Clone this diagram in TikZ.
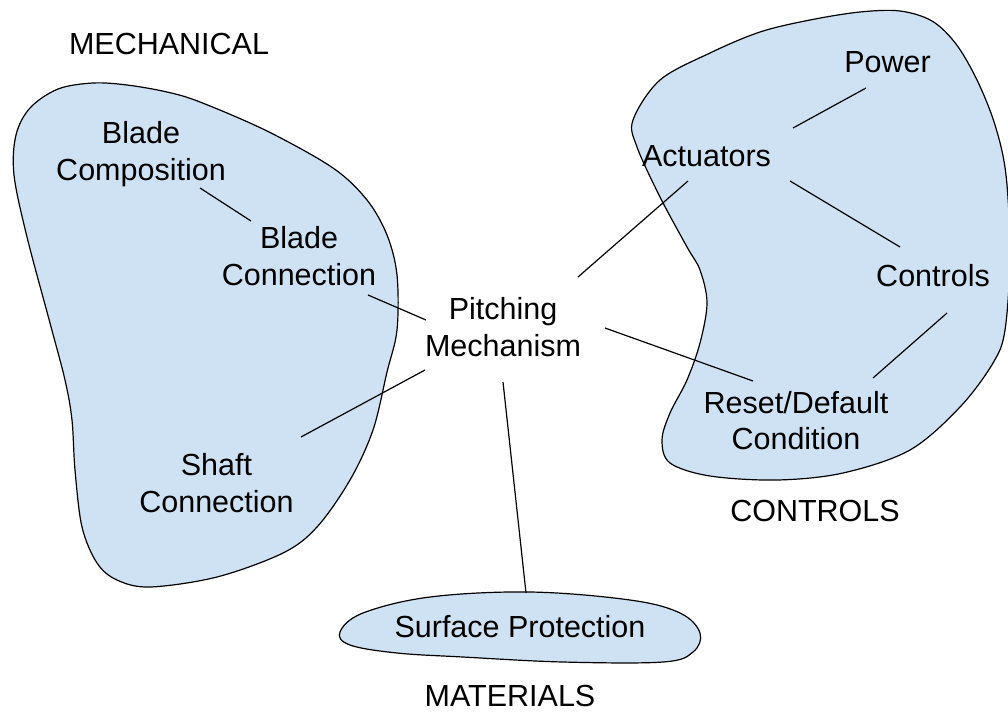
\documentclass[tikz,border=0pt]{standalone}
\usepackage{fontspec}
\setmainfont{Liberation Sans}
\usepackage{tikz}
\usetikzlibrary{positioning}
\definecolor{blobblue}{HTML}{CFE2F3}

\begin{document}
\begin{tikzpicture}[
    x=1pt, y=-1pt,
    blob/.style={draw=black, fill=blobblue, line width=1.2pt},
    link/.style={line width=1.2pt},
    every node/.style={align=center, inner sep=0pt,
                       font=\fontsize{30.5}{36.5}\selectfont}
]
    \useasboundingbox (0,0) rectangle (1008,712);

    % regions
    \draw[blob] plot[smooth cycle, tension=0.55] coordinates {
        (93,83) (127,85) (167,92) (200,102) (267,131) (333,168)
        (367,200) (387,235) (397,275) (397,330) (387,372)
        (373,430) (350,480) (317,527) (283,553) (217,577) (150,587)
        (117,580) (97,563) (82,527) (75,470) (72,420) (65,380)
        (50,323) (27,237) (14,175) (16,135) (30,108) (58,89)};
    \draw[blob] plot[smooth cycle, tension=0.55] coordinates {
        (633,120) (660,80) (710,53) (760,32) (810,20) (860,12)
        (900,11) (932,21) (956,44) (977,80) (995,125) (1006,175)
        (1010,255) (1005,330) (993,363) (960,407) (910,450)
        (843,473) (777,480) (710,476) (670,463) (662,440) (670,413)
        (687,380) (700,343) (707,303) (700,270) (687,247) (660,197)
        (637,147)};
    \draw[blob] plot[smooth cycle, tension=0.6] coordinates {
        (340,632) (363,613) (430,597) (530,592) (630,600) (680,613)
        (700,633) (693,652) (663,662) (563,662) (463,657) (397,653)
        (350,645)};

    % group titles
    \node (mechTitle) at (169,44) {MECHANICAL};
    \node (ctrlTitle) at (815,511) {CONTROLS};
    \node (matTitle) at (510,696) {MATERIALS};

    % items
    \node (pm) at (503,327) {Pitching\\Mechanism};
    \node (bcomp) at (141,154) {Blade\\Composition};
    \node (bconn) at (299,256) {Blade\\Connection};
    \node (shaft) at (216.5,483) {Shaft\\Connection};
    \node (act) at (706.5,156) {Actuators};
    \node (power) at (887.5,62) {Power};
    \node (ctrl) at (933,276) {Controls};
    \node (reset) at (796,420.5) {Reset/Default\\Condition};
    \node (surf) at (520,627) {Surface Protection};

    % links
    \draw[link] ([shift={(59,34)}]bcomp.center) -- ([shift={(-48,-35)}]bconn.center);
    \draw[link] ([shift={(69,39)}]bconn.center) -- ([shift={(-77,-7)}]pm.center);
    \draw[link] ([shift={(-78,43)}]pm.center) -- ([shift={(84.5,-46)}]shaft.center);
    \draw[link] ([shift={(75,-50)}]pm.center) -- ([shift={(-18.5,25)}]act.center);
    \draw[link] ([shift={(102,1)}]pm.center) -- ([shift={(-43,-39.5)}]reset.center);
    \draw[link] ([shift={(0,55)}]pm.center) -- ([shift={(6,-34)}]surf.center);
    \draw[link] ([shift={(86.5,-28)}]act.center) -- ([shift={(-21.5,26)}]power.center);
    \draw[link] ([shift={(83.5,25)}]act.center) -- ([shift={(-33,-29)}]ctrl.center);
    \draw[link] ([shift={(14,37)}]ctrl.center) -- ([shift={(77,-42.5)}]reset.center);
\end{tikzpicture}
\end{document}
